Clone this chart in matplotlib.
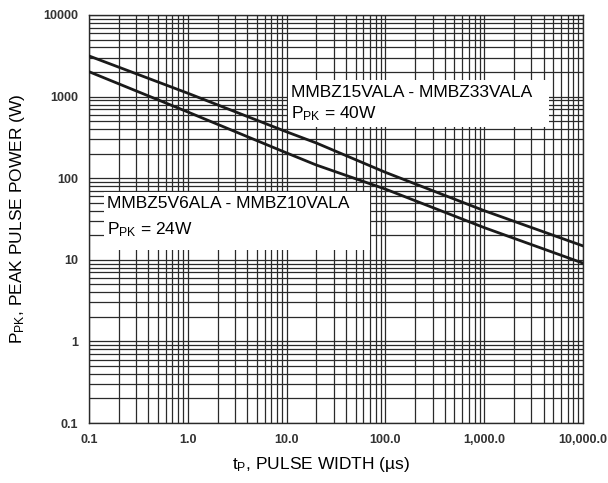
import numpy as np
import matplotlib
matplotlib.use("Agg")
import matplotlib.pyplot as plt
from matplotlib.patches import Rectangle

plt.rcParams['font.family'] = ['Liberation Sans', 'DejaVu Sans']
plt.rcParams['mathtext.fontset'] = 'custom'
plt.rcParams['mathtext.rm'] = 'Liberation Sans'
plt.rcParams['mathtext.default'] = 'regular'

# pulse width (us) and peak pulse power (W)
width_40w = [0.1, 1.0, 10.0, 20.0, 100.0, 1000.0, 10000.0]
power_40w = [3150, 1100, 370, 270, 118, 40, 14.8]
width_24w = [0.1, 1.0, 10.0, 20.0, 100.0, 1000.0, 10000.0]
power_24w = [2020, 648, 204, 145, 73.5, 24.8, 9.1]

x_ticks = [0.1, 1, 10, 100, 1000, 10000]
x_ticklabels = ['0.1', '1.0', '10.0', '100.0', '1,000.0', '10,000.0']
y_ticks = [0.1, 1, 10, 100, 1000, 10000]
y_ticklabels = ['0.1', '1', '10', '100', '1000', '10000']

label_40w = ['MMBZ15VALA - MMBZ33VALA', 'P$_{PK}$ = 40W']
label_24w = ['MMBZ5V6ALA - MMBZ10VALA', 'P$_{PK}$ = 24W']

fig = plt.figure(figsize=(6.08, 4.83), dpi=100)
ax = fig.add_axes([89 / 608, 1 - 423 / 483, 494 / 608, 408 / 483])

ax.set_xscale('log')
ax.set_yscale('log')
ax.set_xlim(0.1, 10000)
ax.set_ylim(0.1, 10000)

ax.grid(True, which='both', color='#2a2a2a', linewidth=0.9)
ax.set_axisbelow(True)

ax.plot(width_40w, power_40w, color='#1a1a1a', linewidth=2.0, zorder=3)
ax.plot(width_24w, power_24w, color='#1a1a1a', linewidth=2.0, zorder=3)

# white boxes behind the labels hide the grid
ax.add_patch(Rectangle((0.403, 0.7255), 0.528, 0.1155, transform=ax.transAxes,
                       facecolor='white', edgecolor='none', zorder=2))
ax.add_patch(Rectangle((0.030, 0.424), 0.539, 0.142, transform=ax.transAxes,
                       facecolor='white', edgecolor='none', zorder=2))

ax.text(0.409, 0.809, label_40w[0], transform=ax.transAxes, fontsize=12.5,
        va='center', ha='left', zorder=4)
ax.text(0.409, 0.757, label_40w[1], transform=ax.transAxes, fontsize=12.5,
        va='center', ha='left', zorder=4)
ax.text(0.036, 0.538, label_24w[0], transform=ax.transAxes, fontsize=12.5,
        va='center', ha='left', zorder=4)
ax.text(0.036, 0.473, label_24w[1], transform=ax.transAxes, fontsize=12.5,
        va='center', ha='left', zorder=4)

ax.set_xticks(x_ticks)
ax.set_xticklabels(x_ticklabels)
ax.set_yticks(y_ticks)
ax.set_yticklabels(y_ticklabels)
ax.minorticks_on()
ax.tick_params(which='both', length=0, pad=8, labelsize=9, labelcolor='#333333')
for lbl in ax.get_xticklabels() + ax.get_yticklabels():
    lbl.set_fontweight('bold')
ax.tick_params(axis='both', which='minor', labelbottom=False, labelleft=False)

for s in ax.spines.values():
    s.set_color('#2a2a2a')
    s.set_linewidth(1.0)

fig.text(321 / 608, 1 - 465 / 483, 't$_{P}$, PULSE WIDTH (µs)', fontsize=12.5,
         ha='center', va='center')
fig.text(18 / 608, 1 - 219 / 483, 'P$_{PK}$, PEAK PULSE POWER (W)', fontsize=12.5,
         ha='center', va='center', rotation=90)

fig.savefig('out.png', dpi=100)
